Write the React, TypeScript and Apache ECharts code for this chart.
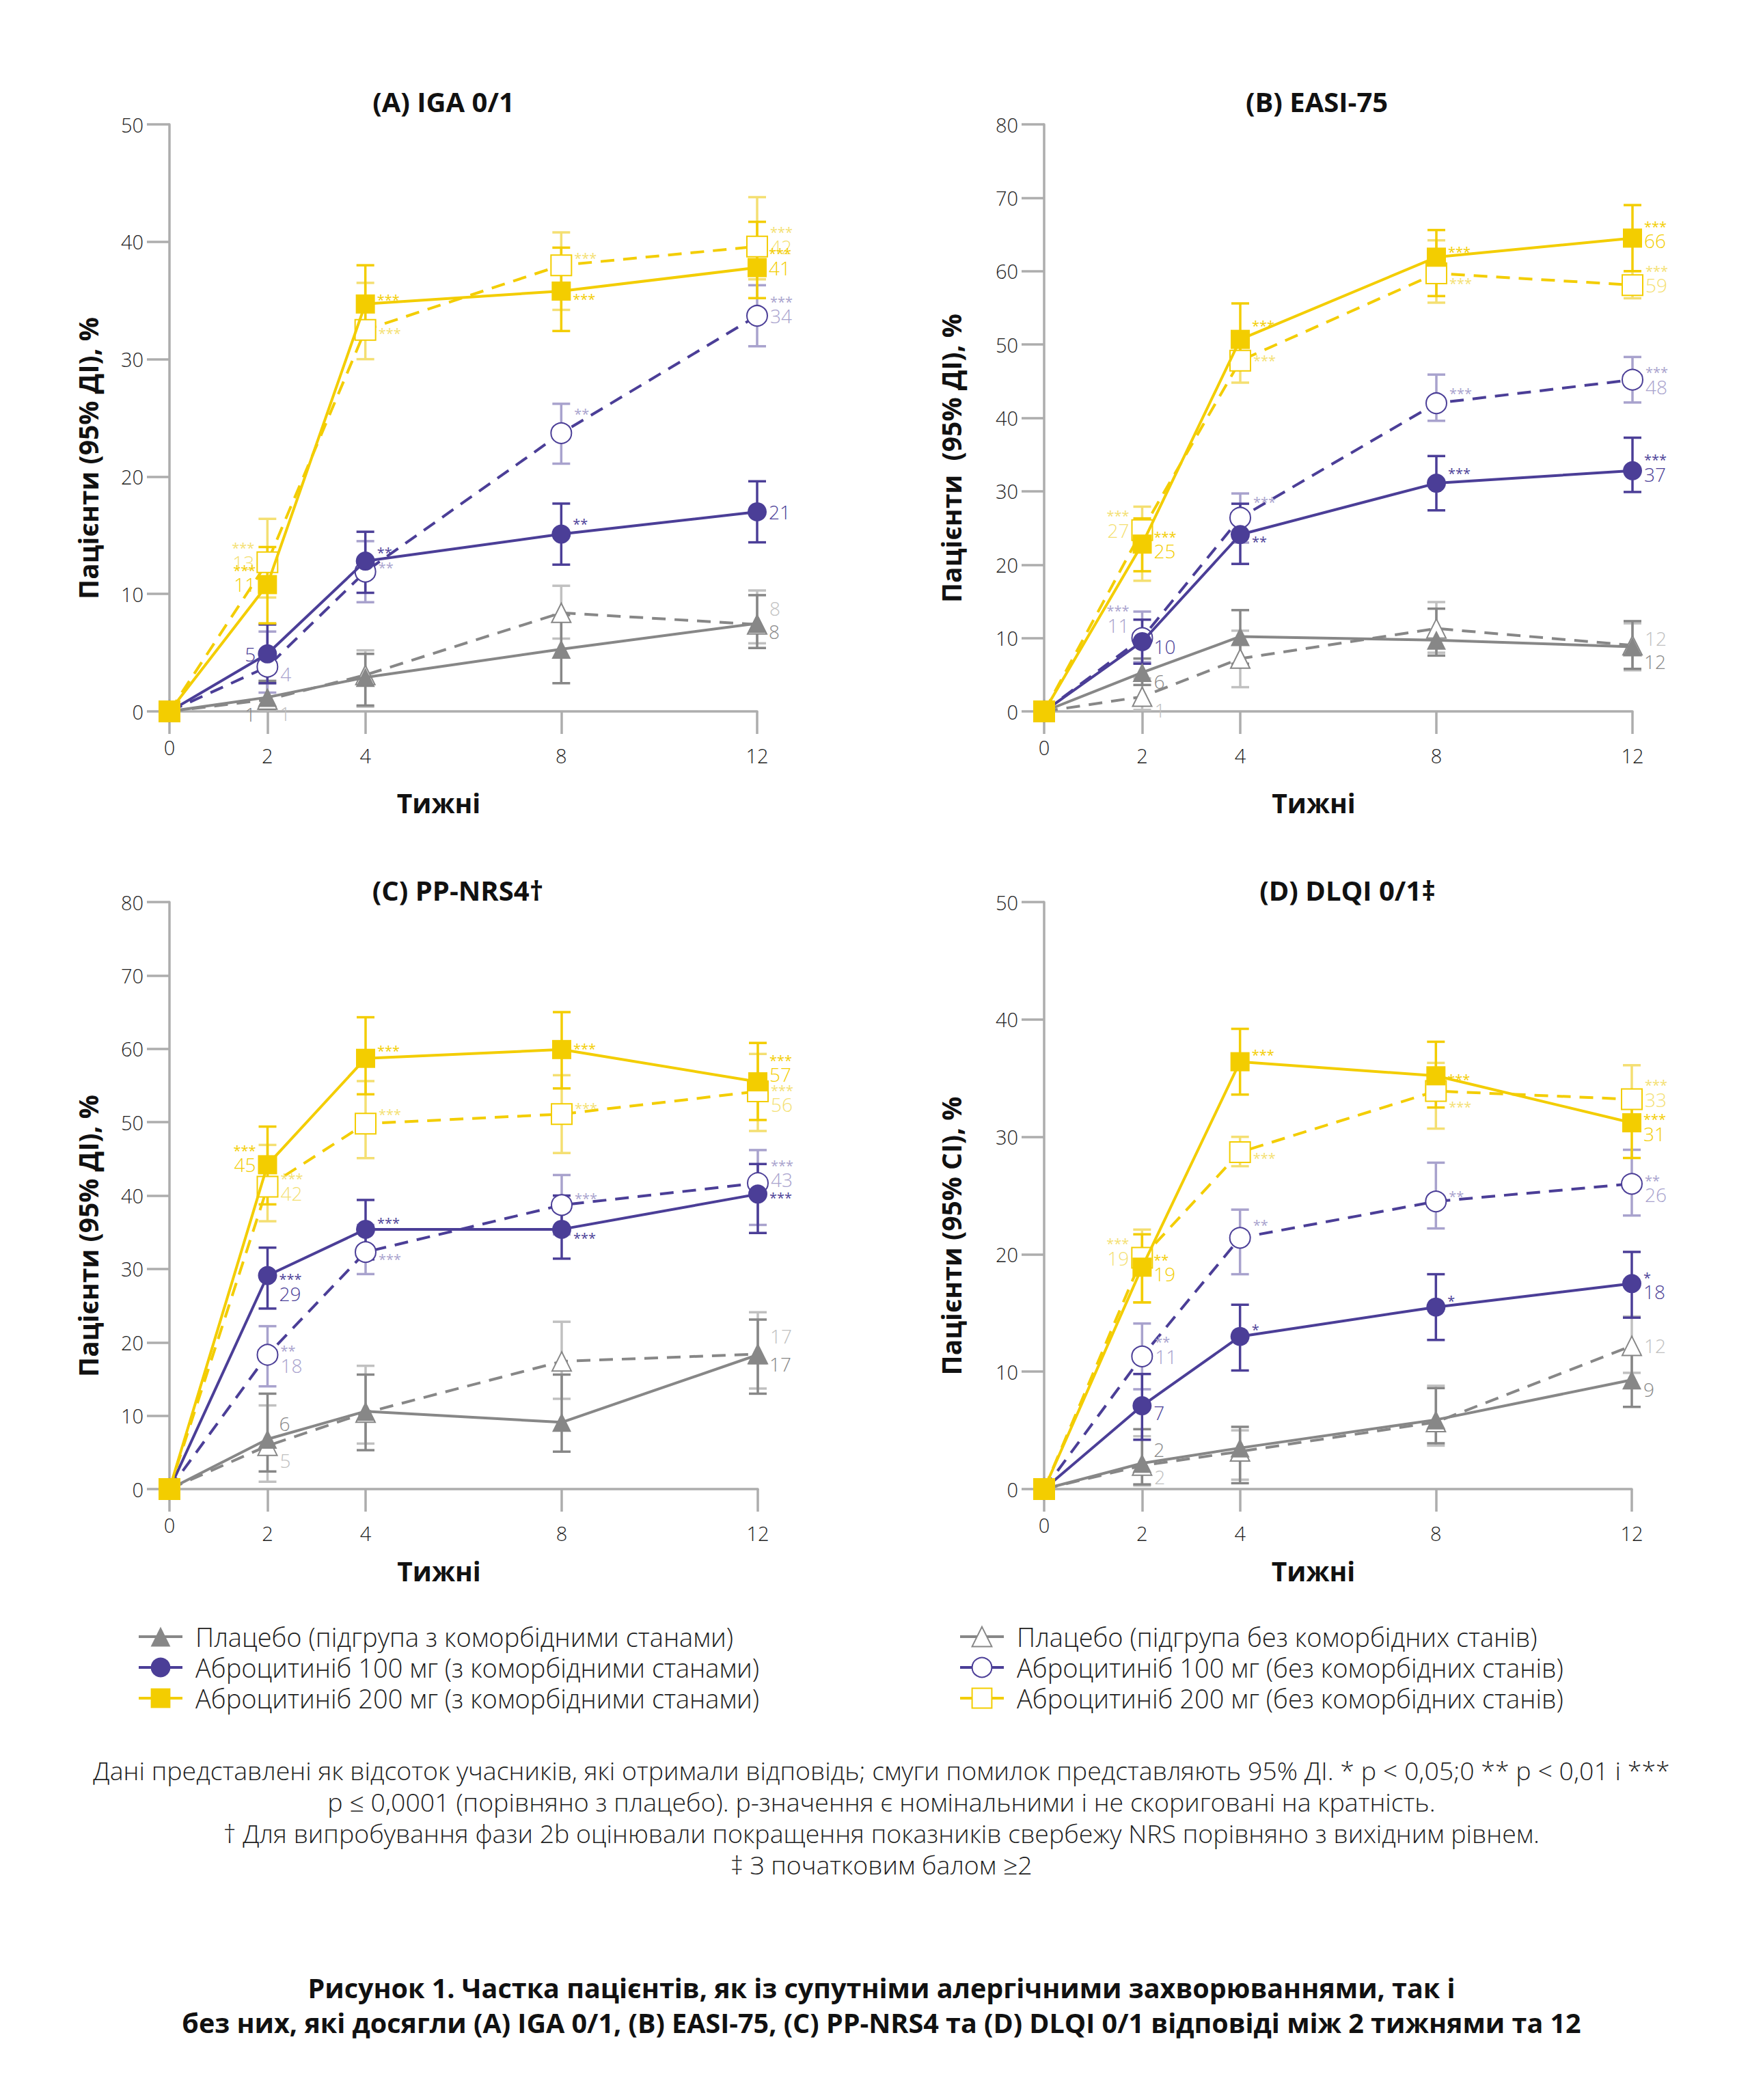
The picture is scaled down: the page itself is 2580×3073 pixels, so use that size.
import React, { useEffect, useRef } from "react";
import * as echarts from "echarts";

// ---------- DATA ----------
const weeks = [0, 2, 4, 8, 12];
const xTicks = [0, 2, 4, 8, 12];

const legendNames = [
  "Плацебо (підгрупа з коморбідними станами)",
  "Аброцитиніб 100 мг (з коморбідними станами)",
  "Аброцитиніб 200 мг (з коморбідними станами)",
  "Плацебо (підгрупа без коморбідних станів)",
  "Аброцитиніб 100 мг (без коморбідних станів)",
  "Аброцитиніб 200 мг (без коморбідних станів)",
];

const panelTitles = ["(A) IGA 0/1", "(B) EASI-75", "(C) PP-NRS4†", "(D) DLQI 0/1‡"];
const yNames = ["Пацієнти (95% ДІ), %", "Пацієнти  (95% ДІ), %", "Пацієнти (95% ДІ), %", "Пацієнти (95% CI), %"];
const yMax = [50, 80, 80, 50];
const xName = "Тижні";

// Panel A — IGA 0/1
const A_pboC = [0, 1.2, 2.9, 5.3, 7.5];
const A_pboN = [0, 1.0, 3.1, 8.4, 7.4];
const A_a100C = [0, 4.9, 12.8, 15.1, 17.0];
const A_a100N = [0, 3.8, 11.9, 23.7, 33.7];
const A_a200C = [0, 10.8, 34.7, 35.8, 37.8];
const A_a200N = [0, 12.7, 32.5, 38.0, 39.6];
const A_pboC_ci = [null, [0.2, 2.6], [0.5, 4.9], [2.4, 8.2], [5.4, 9.9]];
const A_pboN_ci = [null, [0.1, 2.4], [0.4, 5.2], [6.2, 10.7], [5.8, 10.3]];
const A_a100C_ci = [null, [2.4, 7.4], [10.1, 15.3], [12.5, 17.7], [14.4, 19.6]];
const A_a100N_ci = [null, [1.6, 6.8], [9.3, 14.5], [21.1, 26.2], [31.1, 36.3]];
const A_a200C_ci = [null, [7.5, 14.0], [32.1, 38.0], [32.4, 39.5], [35.2, 41.7]];
const A_a200N_ci = [null, [9.7, 16.4], [30.0, 36.5], [34.2, 40.8], [36.8, 43.8]];
const A_pboC_lab = ["", "|1", "", "", "|8"];
const A_pboN_lab = ["", "|1", "", "", "|8"];
const A_a100C_lab = ["", "|5", "**|", "**|", "|21"];
const A_a100N_lab = ["", "|4", "**|", "**|", "***|34"];
const A_a200C_lab = ["", "***|11", "***|", "***|", "***|41"];
const A_a200N_lab = ["", "***|13", "***|", "***|", "***|42"];

// Panel B — EASI-75
const B_pboC = [0, 5.3, 10.2, 9.7, 8.8];
const B_pboN = [0, 2.0, 7.2, 11.3, 9.0];
const B_a100C = [0, 9.5, 24.1, 31.1, 32.8];
const B_a100N = [0, 10.0, 26.4, 42.0, 45.2];
const B_a200C = [0, 22.8, 50.7, 61.9, 64.5];
const B_a200N = [0, 24.7, 47.8, 59.7, 58.1];
const B_pboC_ci = [null, [3.6, 7.2], [6.5, 13.8], [7.6, 14.0], [5.8, 12.3]];
const B_pboN_ci = [null, [0.2, 4.5], [3.3, 11.0], [8.0, 14.9], [5.6, 12.0]];
const B_a100C_ci = [null, [6.5, 12.5], [20.1, 28.3], [27.4, 34.8], [29.9, 37.3]];
const B_a100N_ci = [null, [6.7, 13.6], [23.0, 29.7], [39.6, 45.9], [42.1, 48.3]];
const B_a200C_ci = [null, [19.1, 26.3], [47.0, 55.6], [56.6, 65.6], [60.0, 69.0]];
const B_a200N_ci = [null, [17.8, 27.9], [44.8, 50.5], [55.7, 64.2], [56.3, 60.0]];
const B_pboC_lab = ["", "|6", "", "", "|12"];
const B_pboN_lab = ["", "|1", "", "", "|12"];
const B_a100C_lab = ["", "|10", "**|", "***|", "***|37"];
const B_a100N_lab = ["", "***|11", "***|", "***|", "***|48"];
const B_a200C_lab = ["", "***|25", "***|", "***|", "***|66"];
const B_a200N_lab = ["", "***|27", "***|", "***|", "***|59"];

// Panel C — PP-NRS4
const C_pboC = [0, 6.8, 10.6, 9.1, 18.3];
const C_pboN = [0, 5.9, 10.4, 17.4, 18.4];
const C_a100C = [0, 29.1, 35.4, 35.4, 40.2];
const C_a100N = [0, 18.3, 32.3, 38.7, 41.7];
const C_a200C = [0, 44.2, 58.7, 59.9, 55.5];
const C_a200N = [0, 41.2, 49.8, 51.1, 54.2];
const C_pboC_ci = [null, [2.4, 13.0], [5.3, 15.6], [5.1, 15.6], [13.0, 23.1]];
const C_pboN_ci = [null, [1.0, 11.4], [6.2, 16.8], [12.3, 22.8], [13.7, 24.1]];
const C_a100C_ci = [null, [24.6, 32.9], [31.3, 39.4], [31.4, 40.0], [34.9, 44.3]];
const C_a100N_ci = [null, [14.0, 22.2], [29.3, 36.0], [34.7, 42.8], [36.0, 46.2]];
const C_a200C_ci = [null, [38.8, 49.4], [53.8, 64.3], [54.6, 65.0], [50.3, 60.8]];
const C_a200N_ci = [null, [36.5, 46.9], [45.1, 55.6], [45.8, 56.4], [48.8, 59.3]];
const C_pboC_lab = ["", "|6", "", "", "|17"];
const C_pboN_lab = ["", "|5", "", "", "|17"];
const C_a100C_lab = ["", "***|29", "***|", "***|", "***|"];
const C_a100N_lab = ["", "**|18", "***|", "***|", "***|43"];
const C_a200C_lab = ["", "***|45", "***|", "***|", "***|57"];
const C_a200N_lab = ["", "***|42", "***|", "***|", "***|56"];

// Panel D — DLQI 0/1
const D_pboC = [0, 2.2, 3.5, 5.9, 9.3];
const D_pboN = [0, 2.0, 3.2, 5.7, 12.2];
const D_a100C = [0, 7.1, 13.0, 15.5, 17.5];
const D_a100N = [0, 11.3, 21.4, 24.5, 26.0];
const D_a200C = [0, 18.9, 36.4, 35.2, 31.2];
const D_a200N = [0, 19.7, 28.7, 33.9, 33.2];
const D_pboC_ci = [null, [0.4, 5.1], [0.5, 5.3], [3.9, 8.6], [7.0, 11.5]];
const D_pboN_ci = [null, [0.3, 4.5], [0.8, 5.0], [3.7, 8.8], [9.9, 14.7]];
const D_a100C_ci = [null, [4.2, 9.8], [10.1, 15.7], [12.7, 18.3], [14.6, 20.2]];
const D_a100N_ci = [null, [8.5, 14.1], [18.3, 23.8], [22.2, 27.8], [23.3, 28.9]];
const D_a200C_ci = [null, [15.9, 21.7], [33.6, 39.2], [32.5, 38.1], [28.2, 34.0]];
const D_a200N_ci = [null, [15.9, 22.1], [27.5, 30.0], [30.7, 36.3], [30.5, 36.1]];
const D_pboC_lab = ["", "|2", "", "", "|9"];
const D_pboN_lab = ["", "|2", "", "", "|12"];
const D_a100C_lab = ["", "|7", "*|", "*|", "*|18"];
const D_a100N_lab = ["", "**|11", "**|", "**|", "**|26"];
const D_a200C_lab = ["", "**|19", "***|", "***|", "***|31"];
const D_a200N_lab = ["", "***|19", "***|", "***|", "***|33"];

const footnotes = [
  "Дані представлені як відсоток учасників, які отримали відповідь; смуги помилок представляють 95% ДІ. * p < 0,05;0 ** p < 0,01 і ***",
  "p ≤ 0,0001 (порівняно з плацебо). p-значення є номінальними і не скориговані на кратність.",
  "† Для випробування фази 2b оцінювали покращення показників свербежу NRS порівняно з вихідним рівнем.",
  "‡ З початковим балом ≥2",
];
const captionLines = [
  "Рисунок 1. Частка пацієнтів, як із супутніми алергічними захворюваннями, так і",
  "без них, які досягли (A) IGA 0/1, (B) EASI-75, (C) PP-NRS4 та (D) DLQI 0/1 відповіді між 2 тижнями та 12",
];

// ---------- LAYOUT / STYLE ----------
const FONT = '"Open Sans", Lato, "DejaVu Sans", sans-serif';
const YEL = "#F3CD00";
const YEL_L = "#F4DF72";
const PUR = "#4B3E97";
const PUR_L = "#A8A2CD";
const GRY = "#878787";
const GRY_L = "#C0C0C0";
const AXIS = "#ADADAD";
const TXT = "#1E1E1E";

type Key = "pboC" | "pboN" | "a100C" | "a100N" | "a200C" | "a200N";
const KEYS: Key[] = ["pboC", "pboN", "a100C", "a100N", "a200C", "a200N"];
const SERIES_STYLE: Record<Key, any> = {
  pboC: { name: legendNames[0], color: GRY, light: GRY, symbol: "triangle", size: 28, dashed: false, z: 3 },
  pboN: { name: legendNames[3], color: GRY, light: GRY_L, symbol: "emptyTriangle", size: 28, dashed: true, z: 2 },
  a100C: { name: legendNames[1], color: PUR, light: PUR, symbol: "circle", size: 28, dashed: false, z: 5 },
  a100N: { name: legendNames[4], color: PUR, light: PUR_L, symbol: "emptyCircle", size: 30, dashed: true, z: 4 },
  a200C: { name: legendNames[2], color: YEL, light: YEL, symbol: "rect", size: 28, dashed: false, z: 7 },
  a200N: { name: legendNames[5], color: YEL, light: YEL_L, symbol: "emptyRect", size: 30, dashed: true, z: 6 },
};

const GRIDS = [
  { left: 248, top: 182, width: 860, height: 859 },
  { left: 1528, top: 182, width: 861, height: 859 },
  { left: 248, top: 1320, width: 861, height: 859 },
  { left: 1528, top: 1320, width: 860, height: 859 },
];
const TITLE_POS = [[649, 148], [1927, 148], [670, 1302], [1972, 1302]];
const Y_NAME_GAP = [100, 117, 100, 117];
const X_NAME_GAP = [114, 114, 100, 100];

const TWEAKS: Record<string, [string, number]> = {
  "A.pboC.1": ["left", 25], "A.pboN.1": ["right", 20],
  "A.a100C.1": ["left", 0], "A.a100N.1": ["right", 10],
  "A.a200C.1": ["left", 0], "A.a200N.1": ["left", 0],
  "A.a200C.2": ["right", -11], "A.a200N.2": ["right", 0], "A.a100C.2": ["right", -18], "A.a100N.2": ["right", -11],
  "A.a200C.3": ["right", 7], "A.a200N.3": ["right", -16], "A.a100C.3": ["right", -20], "A.a100N.3": ["right", -33],
  "A.pboN.4": ["right", -24], "A.pboC.4": ["right", 12],
  "B.pboC.1": ["right", 13], "B.pboN.1": ["right", 19], "B.a100C.1": ["right", 7], "B.a100N.1": ["left", -19],
  "B.a200C.1": ["right", 10], "B.a200N.1": ["left", 0],
  "B.a200C.2": ["right", -25], "B.a200N.2": ["right", -5], "B.a100N.2": ["right", -28], "B.a100C.2": ["right", 5],
  "B.a200C.3": ["right", -13], "B.a200N.3": ["right", 10], "B.a100N.3": ["right", -20], "B.a100C.3": ["right", -20],
  "B.a200C.4": ["right", 4], "B.a100N.4": ["right", 10], "B.a100C.4": ["right", 5], "B.pboN.4": ["right", -10], "B.pboC.4": ["right", 21],
  "C.pboC.1": ["right", -23], "C.pboN.1": ["right", 21], "C.a100C.1": ["right", 26], "C.a100N.1": ["right", 15],
  "C.a200C.1": ["left", 0], "C.a200N.1": ["right", 9],
  "C.a200C.2": ["right", -16], "C.a200N.2": ["right", -19], "C.a100C.2": ["right", -14], "C.a100N.2": ["right", 5],
  "C.a200C.3": ["right", -6], "C.a200N.3": ["right", -14], "C.a100N.3": ["right", -15], "C.a100C.3": ["right", 8],
  "C.a200C.4": ["right", -11], "C.a200N.4": ["right", 19], "C.a100N.4": ["right", -5], "C.pboN.4": ["right", -26], "C.pboC.4": ["right", 13],
  "D.pboC.1": ["right", -20], "D.pboN.1": ["right", 16], "D.a100C.1": ["right", 10], "D.a200C.1": ["right", 10], "D.a200N.1": ["left", 0],
  "D.a200C.2": ["right", -15], "D.a200N.2": ["right", 4], "D.a100N.2": ["right", -24], "D.a100C.2": ["right", -15],
  "D.a200C.3": ["right", 0], "D.a200N.3": ["right", 18], "D.a100N.3": ["right", -13], "D.a100C.3": ["right", -14],
  "D.a200C.4": ["right", 16], "D.a100N.4": ["right", 16], "D.a100C.4": ["right", 12], "D.pboC.4": ["right", 14],
};

const PANELS = [
  { id: "A", vals: { pboC: A_pboC, pboN: A_pboN, a100C: A_a100C, a100N: A_a100N, a200C: A_a200C, a200N: A_a200N },
    ci: { pboC: A_pboC_ci, pboN: A_pboN_ci, a100C: A_a100C_ci, a100N: A_a100N_ci, a200C: A_a200C_ci, a200N: A_a200N_ci },
    lab: { pboC: A_pboC_lab, pboN: A_pboN_lab, a100C: A_a100C_lab, a100N: A_a100N_lab, a200C: A_a200C_lab, a200N: A_a200N_lab } },
  { id: "B", vals: { pboC: B_pboC, pboN: B_pboN, a100C: B_a100C, a100N: B_a100N, a200C: B_a200C, a200N: B_a200N },
    ci: { pboC: B_pboC_ci, pboN: B_pboN_ci, a100C: B_a100C_ci, a100N: B_a100N_ci, a200C: B_a200C_ci, a200N: B_a200N_ci },
    lab: { pboC: B_pboC_lab, pboN: B_pboN_lab, a100C: B_a100C_lab, a100N: B_a100N_lab, a200C: B_a200C_lab, a200N: B_a200N_lab } },
  { id: "C", vals: { pboC: C_pboC, pboN: C_pboN, a100C: C_a100C, a100N: C_a100N, a200C: C_a200C, a200N: C_a200N },
    ci: { pboC: C_pboC_ci, pboN: C_pboN_ci, a100C: C_a100C_ci, a100N: C_a100N_ci, a200C: C_a200C_ci, a200N: C_a200N_ci },
    lab: { pboC: C_pboC_lab, pboN: C_pboN_lab, a100C: C_a100C_lab, a100N: C_a100N_lab, a200C: C_a200C_lab, a200N: C_a200N_lab } },
  { id: "D", vals: { pboC: D_pboC, pboN: D_pboN, a100C: D_a100C, a100N: D_a100N, a200C: D_a200C, a200N: D_a200N },
    ci: { pboC: D_pboC_ci, pboN: D_pboN_ci, a100C: D_a100C_ci, a100N: D_a100N_ci, a200C: D_a200C_ci, a200N: D_a200N_ci },
    lab: { pboC: D_pboC_lab, pboN: D_pboN_lab, a100C: D_a100C_lab, a100N: D_a100N_lab, a200C: D_a200C_lab, a200N: D_a200N_lab } },
];

const S_LH = 12;
const V_LH = 30;

function buildLabel(pid: string, key: Key, idx: number, txt: string, color: string) {
  if (!txt) return { show: false };
  const [stars, num] = txt.split("|");
  const tw = TWEAKS[`${pid}.${key}.${idx}`] || ["right", 0];
  let dy = tw[1];
  let formatter: string;
  if (stars && num) {
    formatter = `{s|${stars}}\n{v|${num}}`;
    dy = dy - (S_LH / 2);
  } else if (stars) {
    formatter = `{s|${stars}}`;
    dy = dy + 5;
  } else {
    formatter = `{v|${num}}`;
  }
  const al = tw[0] === "left" ? "right" : "left";
  return {
    show: true,
    position: tw[0],
    distance: 3,
    offset: [0, dy],
    formatter,
    rich: {
      s: { fontSize: 20, lineHeight: S_LH, color, fontFamily: FONT, align: al },
      v: { fontSize: 28, lineHeight: V_LH, color, fontFamily: FONT, fontWeight: 300, align: al },
    },
  };
}

function buildOption() {
  const series: any[] = [];
  const xAxis: any[] = [];
  const yAxis: any[] = [];
  const graphic: any[] = [];

  PANELS.forEach((p, gi) => {
    xAxis.push({
      type: "value", gridIndex: gi, min: 0, max: 12,
      axisLine: { show: true, onZero: false, lineStyle: { color: AXIS, width: 3.5 } },
      axisTick: { show: true, length: 33, customValues: xTicks, lineStyle: { color: AXIS, width: 3.5 } },
      axisLabel: {
        customValues: xTicks, margin: 37, color: TXT,
        formatter: (v: number) => (v === 0 ? `{z|${v}}` : `{n|${v}}`),
        rich: {
          z: { fontSize: 29, lineHeight: 30, fontFamily: FONT, fontWeight: 300, color: TXT },
          n: { fontSize: 29, lineHeight: 54, fontFamily: FONT, fontWeight: 300, color: TXT },
        },
      },
      splitLine: { show: false },
      name: xName, nameLocation: "middle", nameGap: X_NAME_GAP[gi],
      nameTextStyle: { fontSize: 39, fontWeight: "bold", color: "#111", fontFamily: FONT, padding: [0, 72, 0, 0] },
    });
    yAxis.push({
      type: "value", gridIndex: gi, min: 0, max: yMax[gi], interval: 10,
      axisLine: { show: true, lineStyle: { color: AXIS, width: 3.5 } },
      axisTick: { show: true, length: 33, lineStyle: { color: AXIS, width: 3.5 } },
      axisLabel: { margin: 38, fontSize: 29, color: TXT, fontFamily: FONT, fontWeight: 300 },
      splitLine: { show: false },
      name: yNames[gi], nameLocation: "middle", nameGap: Y_NAME_GAP[gi],
      nameTextStyle: { fontSize: 39, fontWeight: "bold", color: "#111", fontFamily: FONT, padding: [0, 118, 0, 0] },
    });

    KEYS.forEach((key) => {
      const st = SERIES_STYLE[key];
      const vals = (p.vals as any)[key] as number[];
      const cis = (p.ci as any)[key] as (number[] | null)[];
      const labs = (p.lab as any)[key] as string[];
      const errData = weeks
        .map((w, i) => (cis[i] ? [w, cis[i]![0], cis[i]![1]] : null))
        .filter((d) => d !== null);
      series.push({
        type: "custom",
        name: `err-${p.id}-${key}`,
        xAxisIndex: gi, yAxisIndex: gi,
        z: st.z,
        silent: true,
        encode: { x: 0, y: [1, 2] },
        data: errData,
        renderItem: (params: any, api: any) => {
          const x = api.value(0);
          const lo = api.coord([x, api.value(1)]);
          const hi = api.coord([x, api.value(2)]);
          const hw = 13;
          const style = { stroke: st.light, lineWidth: 3.5, fill: null };
          return {
            type: "group",
            children: [
              { type: "line", shape: { x1: lo[0], y1: lo[1], x2: hi[0], y2: hi[1] }, style },
              { type: "line", shape: { x1: lo[0] - hw, y1: lo[1], x2: lo[0] + hw, y2: lo[1] }, style },
              { type: "line", shape: { x1: hi[0] - hw, y1: hi[1], x2: hi[0] + hw, y2: hi[1] }, style },
            ],
          };
        },
      });
      const isEmpty = st.symbol.startsWith("empty");
      series.push({
        type: "line",
        name: st.name,
        xAxisIndex: gi, yAxisIndex: gi,
        z: st.z + 10,
        symbol: st.symbol,
        symbolSize: st.size,
        showSymbol: true,
        showAllSymbol: true,
        lineStyle: { color: st.color, width: 4, type: st.dashed ? [20, 13] : "solid" },
        itemStyle: isEmpty
          ? { color: st.color, borderColor: st.color, borderWidth: 4 }
          : { color: st.color, borderWidth: 0 },
        emphasis: { disabled: true },
        data: weeks.map((w, i) => ({
          value: [w, vals[i]],
          label: buildLabel(p.id, key, i, labs[i], st.light),
        })),
      });
    });

    graphic.push({
      type: "text", x: TITLE_POS[gi][0], y: TITLE_POS[gi][1],
      style: {
        text: panelTitles[gi], fontSize: 40, fontWeight: "bold", fontFamily: FONT, fill: "#111",
        textAlign: "center", textVerticalAlign: "middle", align: "center", verticalAlign: "middle",
      },
    });
  });

  const footY = [2590, 2636, 2682, 2728];
  footnotes.forEach((t, i) => {
    graphic.push({
      type: "text", x: 1290, y: footY[i],
      style: {
        text: t, fontSize: 37.5, fontFamily: FONT, fontWeight: 300, fill: TXT,
        textAlign: "center", textVerticalAlign: "middle", align: "center", verticalAlign: "middle",
      },
    });
  });
  const capY = [2909, 2960];
  captionLines.forEach((t, i) => {
    graphic.push({
      type: "text", x: 1290, y: capY[i],
      style: {
        text: t, fontSize: 39.5, fontFamily: FONT, fontWeight: "bold", fill: "#111",
        textAlign: "center", textVerticalAlign: "middle", align: "center", verticalAlign: "middle",
      },
    });
  });

  const legendCommon = {
    orient: "vertical",
    top: 2371,
    itemWidth: 64,
    itemHeight: 36,
    itemGap: 7,
    selectedMode: false,
    lineStyle: { type: "solid", width: 4 },
    textStyle: { fontSize: 38, fontFamily: FONT, fontWeight: 300, color: TXT, padding: [0, 0, 0, 14] },
  };

  return {
    animation: false,
    backgroundColor: "#ffffff",
    grid: GRIDS.map((g) => ({ ...g, containLabel: false })),
    xAxis,
    yAxis,
    legend: [
      { ...legendCommon, left: 196, data: legendNames.slice(0, 3) },
      { ...legendCommon, left: 1398, data: legendNames.slice(3, 6) },
    ],
    series,
    graphic,
  };
}

export default function App() {
  const ref = useRef<HTMLDivElement>(null);
  useEffect(() => {
    document.body.style.margin = "0";
    if (!ref.current) return;
    const chart = echarts.init(ref.current, undefined, { renderer: "svg" });
    chart.setOption(buildOption() as any);
    return () => chart.dispose();
  }, []);
  return <div ref={ref} style={{ width: 2580, height: 3073, background: "#fff" }} />;
}
